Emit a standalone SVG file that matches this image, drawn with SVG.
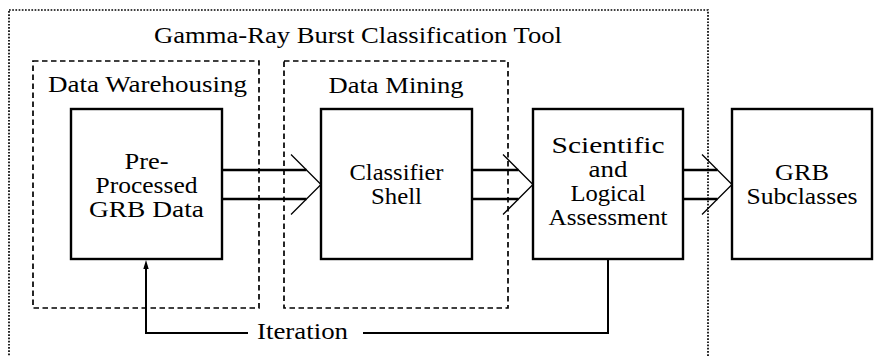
<svg xmlns="http://www.w3.org/2000/svg" width="875" height="356" viewBox="0 0 875 356">
<style>
text{font-family:"Liberation Serif","Times New Roman",Times,Tinos,"Noto Serif","Nimbus Roman","FreeSerif","DejaVu Serif",serif;font-size:24px;fill:#000;text-anchor:middle}
.box{fill:#fff;stroke:#000;stroke-width:2.4}
.dash{fill:none;stroke:#000;stroke-width:1.7;stroke-dasharray:5.5 3.5}
.dot{fill:none;stroke:#000;stroke-width:1.7;stroke-dasharray:1.7 1.5}
.flow{fill:none;stroke:#000;stroke-width:2.6}
.chev{fill:none;stroke:#000;stroke-width:1.3}
.iter{fill:none;stroke:#000;stroke-width:2}
</style>
<rect width="875" height="356" fill="#fff"/>
<g id="tool">
<rect class="dot" x="9" y="10" width="699" height="360"/>
<text x="358" y="43" textLength="408" lengthAdjust="spacingAndGlyphs">Gamma-Ray Burst Classification Tool</text>
</g>
<g id="warehousing">
<rect class="dash" x="33" y="61" width="226" height="247"/>
<text x="147.5" y="92" textLength="199" lengthAdjust="spacingAndGlyphs">Data Warehousing</text>
</g>
<g id="mining">
<rect class="dash" x="284" y="61" width="224" height="247"/>
<text x="396" y="93" textLength="135" lengthAdjust="spacingAndGlyphs">Data Mining</text>
</g>
<g id="preprocessed">
<rect class="box" x="71" y="109" width="151" height="150"/>
<text x="146.5" y="169" textLength="44" lengthAdjust="spacingAndGlyphs">Pre-</text>
<text x="146.5" y="193" textLength="102" lengthAdjust="spacingAndGlyphs">Processed</text>
<text x="146.5" y="217" textLength="115" lengthAdjust="spacingAndGlyphs">GRB Data</text>
</g>
<g id="classifier">
<rect class="box" x="321" y="109" width="151" height="150"/>
<text x="396.5" y="180" textLength="94" lengthAdjust="spacingAndGlyphs">Classifier</text>
<text x="396.5" y="204" textLength="51" lengthAdjust="spacingAndGlyphs">Shell</text>
</g>
<g id="assessment">
<rect class="box" x="533" y="109" width="150" height="150"/>
<text x="608" y="153" textLength="113" lengthAdjust="spacingAndGlyphs">Scientific</text>
<text x="608" y="177" textLength="39" lengthAdjust="spacingAndGlyphs">and</text>
<text x="608" y="201" textLength="75" lengthAdjust="spacingAndGlyphs">Logical</text>
<text x="608" y="225" textLength="119" lengthAdjust="spacingAndGlyphs">Assessment</text>
</g>
<g id="subclasses">
<rect class="box" x="732" y="109" width="140" height="150"/>
<text x="802" y="180" textLength="54" lengthAdjust="spacingAndGlyphs">GRB</text>
<text x="802" y="204" textLength="111" lengthAdjust="spacingAndGlyphs">Subclasses</text>
</g>
<g id="connectors">
<path class="flow" d="M222 170H306.5M222 199H306.5"/>
<path class="chev" d="M291 154.5L321 184.5L291 214.5"/>
<path class="flow" d="M472 170H518.5M472 199H518.5"/>
<path class="chev" d="M503 154.5L533 184.5L503 214.5"/>
<path class="flow" d="M683 170H717.5M683 199H717.5"/>
<path class="chev" d="M702 154.5L732 184.5L702 214.5"/>
<path class="iter" d="M608 259V333H363M248 333H146V267"/>
<polygon points="146,260 143.3,269 148.7,269" fill="#000"/>
<text x="302.5" y="339" textLength="91" lengthAdjust="spacingAndGlyphs">Iteration</text>
</g>
</svg>
